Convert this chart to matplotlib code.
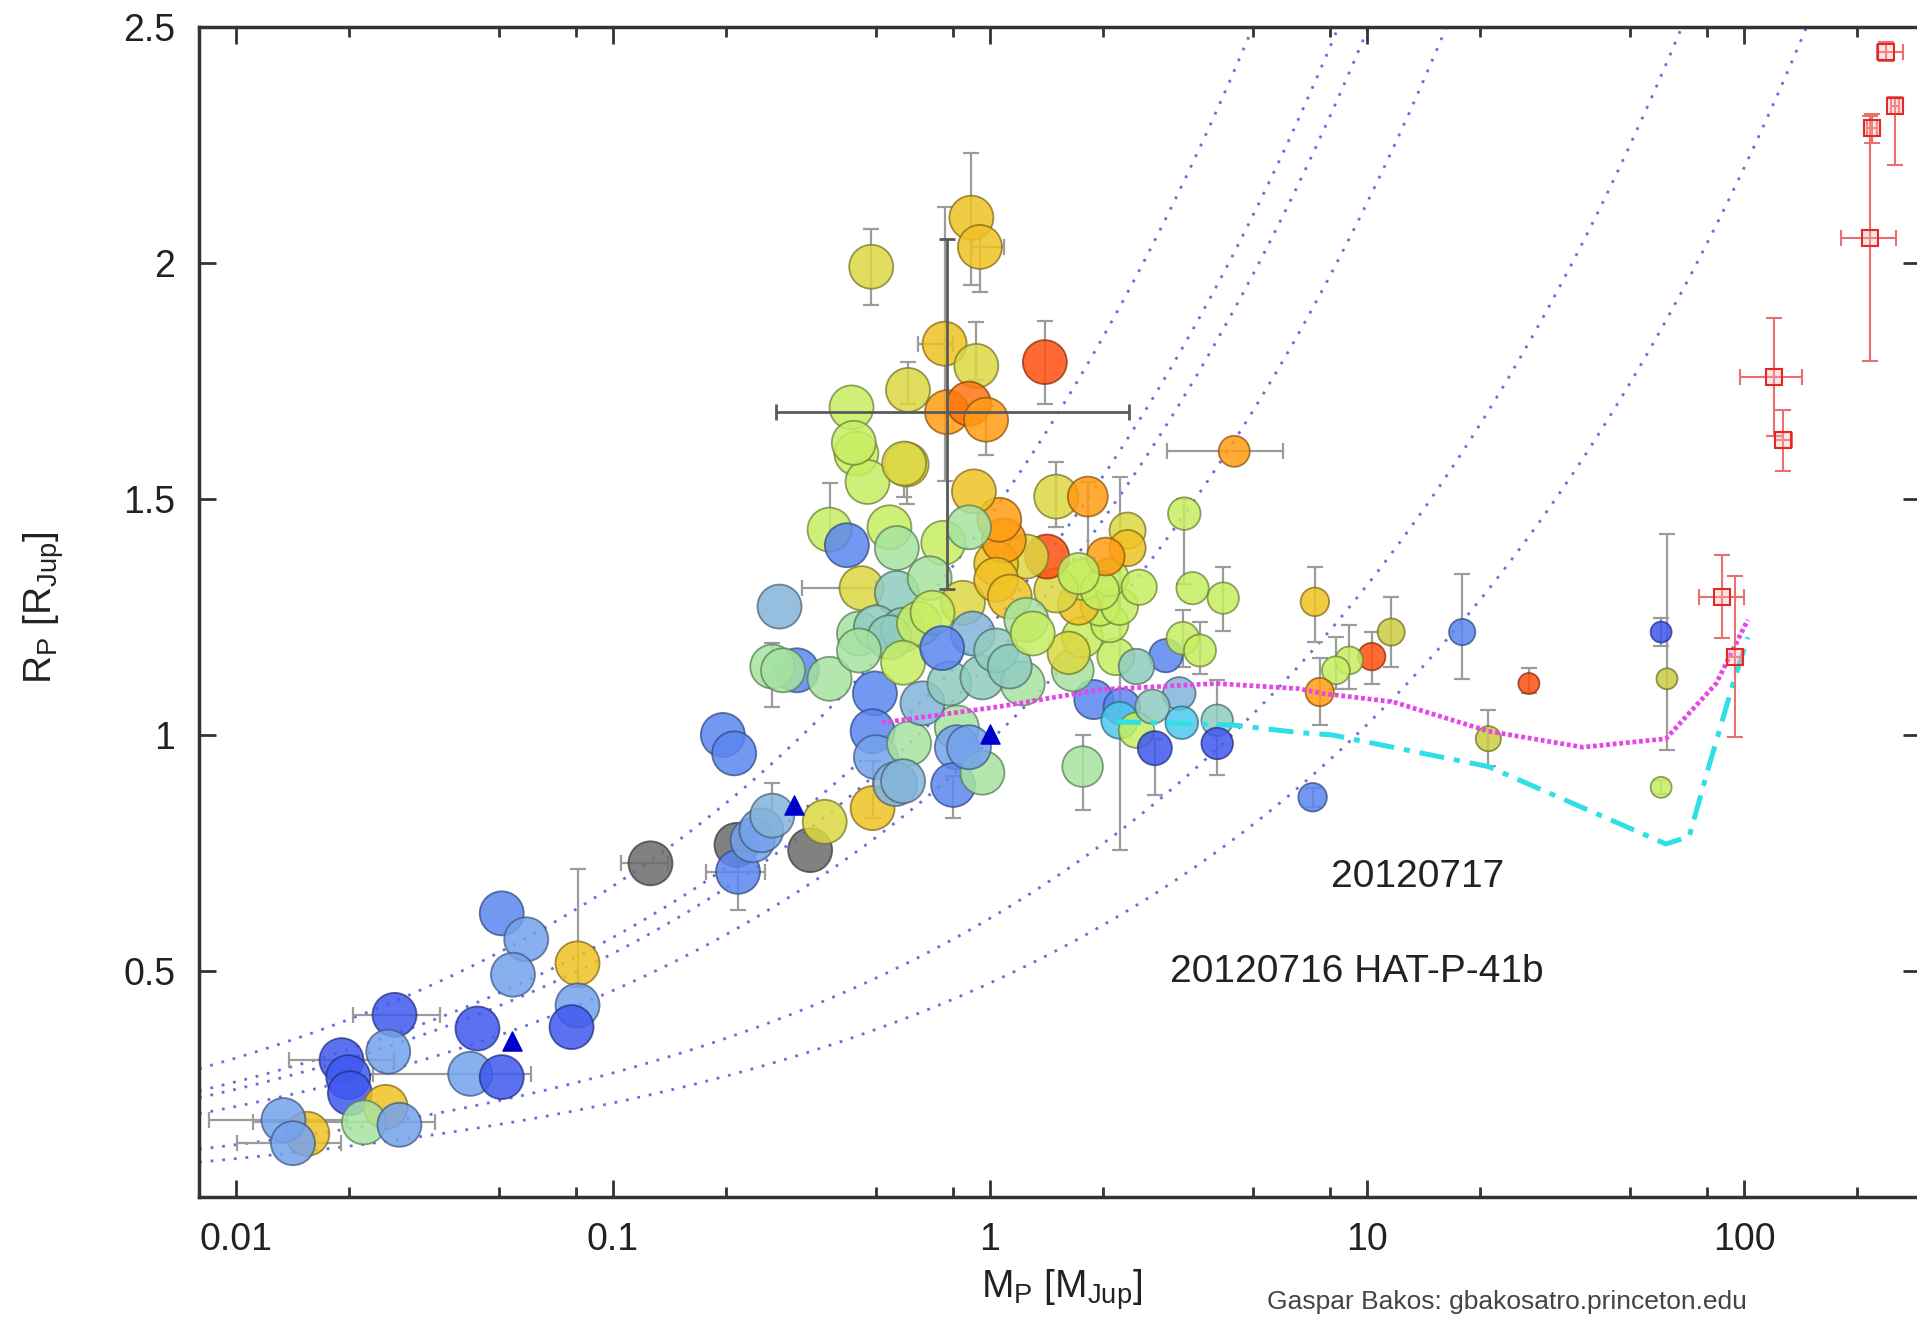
import numpy as np
import matplotlib
matplotlib.use('Agg')
import matplotlib.pyplot as plt
from matplotlib import font_manager
from matplotlib.ticker import FixedLocator, LogLocator, NullFormatter

plt.rcParams.update({
    'font.family': ['Liberation Sans', 'DejaVu Sans'],
    'mathtext.fontset': 'custom',
    'mathtext.rm': 'Liberation Sans',
    'mathtext.it': 'Liberation Sans:italic',
    'mathtext.sf': 'Liberation Sans',
})

# ── Transiting planets: mass [M_Jup], radius [R_Jup], colour class ──────────
mass = [
    0.0155, 0.0134, 0.0142, 0.0191, 0.0199, 0.0201, 0.0250, 0.0219, 0.0272,
    0.0264, 0.0254, 0.0438, 0.0419, 0.0508, 0.0508, 0.0590, 0.0544, 0.0807,
    0.0807, 0.0778,
    0.126, 0.196, 0.210, 0.213, 0.215, 0.235, 0.248, 0.265, 0.334, 0.365,
    0.489, 0.308, 0.265, 0.283, 0.376, 0.496, 0.489, 0.499, 0.562, 0.611,
    0.589, 0.818, 0.818, 0.800, 0.956, 0.881, 0.663, 0.782, 0.956, 1.223,
    1.763, 1.888, 2.24, 2.21, 2.45, 3.18, 2.70, 3.23, 4.01, 2.74, 4.01,
    2.93, 3.25, 3.61, 3.28, 3.45, 4.16, 4.45, 2.16, 2.45, 1.66, 1.76, 1.62,
    2.08, 1.96, 2.21, 1.72, 1.76, 2.08, 1.96, 1.50, 2.49, 2.32, 2.32, 2.03,
    1.42, 1.50, 1.82, 1.72, 1.25, 1.04, 1.09, 1.06, 0.908, 0.753, 0.881,
    0.542, 0.567, 0.376, 0.418, 0.443, 0.602, 0.474, 0.457, 0.567, 0.693,
    0.849, 1.04, 1.13, 0.277, 0.450, 0.499, 0.589, 0.542, 0.649, 0.450,
    0.589, 0.705, 0.901, 0.748, 1.04, 1.13, 1.25, 1.30,
    0.894, 0.942, 0.485, 0.759, 0.921, 1.40, 0.607, 0.430, 0.770, 0.881,
    0.978, 0.436, 0.593,
    7.28, 11.6, 10.3, 8.98, 8.28, 7.50, 17.9, 7.18, 21.0, 26.9, 60.3, 62.5,
    60.3,
]
radius = [
    0.155, 0.184, 0.135, 0.311, 0.275, 0.241, 0.212, 0.179, 0.174,
    0.407, 0.329, 0.378, 0.282, 0.275, 0.622, 0.567, 0.492, 0.516,
    0.427, 0.381,
    0.728, 1.000, 0.961, 0.767, 0.710, 0.777, 0.798, 0.829, 0.756, 0.816,
    0.845, 1.137, 1.145, 1.137, 1.119, 1.088, 1.008, 0.953, 0.896, 0.982,
    0.902, 1.016, 0.974, 0.894, 0.920, 0.974, 1.067, 1.109, 1.122, 1.109,
    0.933, 1.075, 1.060, 1.031, 1.010, 1.088, 1.060, 1.026, 1.031, 0.972, 0.982,
    1.168, 1.205, 1.179, 1.469, 1.311, 1.290, 1.601, 1.166, 1.145, 1.137, 1.207, 1.174,
    1.236, 1.272, 1.272, 1.277, 1.329, 1.334, 1.306, 1.306, 1.313, 1.433, 1.396, 1.378,
    1.378, 1.505, 1.505, 1.342, 1.378, 1.363, 1.412, 1.456, 1.516, 1.407, 1.440,
    1.440, 1.396, 1.435, 1.402, 1.596, 1.573, 1.536, 1.311, 1.301, 1.332,
    1.280, 1.329, 1.293, 1.272, 1.215, 1.228, 1.223, 1.207, 1.236, 1.179,
    1.153, 1.259, 1.215, 1.184, 1.179, 1.145, 1.244, 1.215,
    2.096, 2.034, 1.992, 1.829, 1.782, 1.790, 1.731, 1.694, 1.684, 1.702,
    1.668, 1.619, 1.575,
    1.282, 1.218, 1.166, 1.158, 1.137, 1.091, 1.218, 0.868, 0.992, 1.109, 1.218, 1.119,
    0.889,
]
colour = [
    'a', 'lb', 'lb', 'db', 'db', 'db', 'a', 'g', 'lb',
    'db', 'lb', 'db', 'lb', 'db', 'b', 'lb', 'lb', 'a',
    'lb', 'db',
    'k', 'b', 'b', 'k', 'b', 'lb', 'lb', 'sb', 'k', 'y',
    'a', 'b', 'g', 'g', 'g', 'b', 'b', 'lb', 'sb', 'g',
    'sb', 'g', 'lb', 'b', 'g', 'lb', 'sb', 't', 't', 'g',
    'g', 'b', 'b', 'c', 'yg', 'sb', 't', 'c', 't', 'db', 'db',
    'b', 'yg', 'yg', 'yg', 'yg', 'yg', 'o', 'yg', 't', 'g', 'yg', 'y',
    'yg', 'yg', 'yg', 'a', 'yg', 'yg', 'yg', 'y', 'yg', 'y', 'a', 'o',
    'r', 'y', 'o', 'yg', 'y', 'a', 'o', 'o', 'a', 'yg', 'g',
    'yg', 'g', 'yg', 'b', 'yg', 'y', 'yg', 'y', 't', 'g',
    'y', 'a', 'a', 'sb', 'g', 't', 't', 't', 'yg', 'g',
    'yg', 'yg', 'sb', 'b', 't', 't', 'g', 'yg',
    'a', 'a', 'y', 'a', 'y', 'r', 'y', 'yg', 'o', 'ro',
    'o', 'yg', 'y',
    'a', 'ol', 'r', 'yg', 'yg', 'o', 'b', 'b', 'ol', 'r', 'db', 'ol',
    'yg',
]

# vertical error bars: mass, radius, lower, upper
yerr_m = [0.0807, 0.265, 0.215, 0.265, 1.763, 2.21, 4.01, 2.74, 4.01, 3.28,
          4.16, 0.800, 0.376, 0.602, 1.50, 0.894, 0.942, 0.485, 0.759, 0.921,
          1.40, 0.607, 0.978, 0.593, 0.489, 3.25, 3.61, 1.82,
          7.28, 11.6, 10.3, 8.98, 8.28, 7.50, 17.9, 7.18, 21.0, 26.9, 60.3,
          62.5, 60.3]
yerr_r = [0.516, 0.829, 0.710, 1.145, 0.933, 1.031, 1.031, 0.972, 0.982, 1.469,
          1.290, 0.894, 1.435, 1.573, 1.505, 2.096, 2.034, 1.992, 1.829, 1.782,
          1.790, 1.731, 1.668, 1.575, 0.845, 1.205, 1.179, 1.505,
          1.282, 1.218, 1.166, 1.158, 1.137, 1.091, 1.218, 0.868, 0.992, 1.109,
          1.218, 1.119, 0.889]
yerr_lo = [0.05, 0.02, 0.08, 0.085, 0.093, 0.275, 0.02, 0.10, 0.067, 0.15,
           0.07, 0.07, 0.03, 0.083, 0.065, 0.142, 0.096, 0.08, 0.29, 0.03,
           0.088, 0.03, 0.075, 0.07, 0.02, 0.06, 0.05, 0.13,
           0.085, 0.073, 0.057, 0.06, 0.04, 0.07, 0.099, 0.02, 0.057, 0.02,
           0.03, 0.15, 0.015]
yerr_hi = [0.20, 0.07, 0.02, 0.05, 0.067, 0.516, 0.085, 0.02, 0.02, 0.03,
           0.065, 0.02, 0.098, 0.03, 0.073, 0.137, 0.03, 0.08, 0.29, 0.093,
           0.088, 0.06, 0.03, 0.03, 0.10, 0.06, 0.06, 0.03,
           0.073, 0.075, 0.052, 0.075, 0.07, 0.072, 0.124, 0.02, 0.06, 0.033,
           0.03, 0.306, 0.015]

# horizontal error bars: mass, radius, mass range
xerr_m = [4.45, 0.759, 0.942, 0.457, 0.215, 0.126, 0.0134, 0.0219, 0.0264,
          0.0419, 0.0191, 0.0142]
xerr_r = [1.601, 1.829, 2.034, 1.311, 0.710, 0.728, 0.184, 0.179, 0.407,
          0.282, 0.311, 0.135]
xerr_min = [2.95, 0.644, 0.90, 0.317, 0.177, 0.105, 0.0085, 0.0111, 0.0205,
            0.0231, 0.0139, 0.0101]
xerr_max = [6.0, 0.80, 1.09, 0.50, 0.253, 0.14, 0.0198, 0.0337, 0.0349,
            0.0608, 0.0263, 0.0190]

# planet with large errors in both axes
cross_m, cross_r = 0.770, 1.684
cross_m_range = (0.271, 2.34)
cross_r_range = (1.31, 2.05)

# triangles
tri_m = [0.054, 0.303, 1.0]
tri_r = [0.352, 0.852, 1.003]

# low-mass stars / brown dwarfs
star_m = [238, 251, 219, 216, 120, 127, 87.5, 94.4]
star_r = [2.448, 2.332, 2.285, 2.052, 1.759, 1.624, 1.293, 1.166]
star_r_lo = [0.02, 0.125, 0.03, 0.26, 0.125, 0.065, 0.088, 0.17]
star_r_hi = [0.02, 0.02, 0.03, 0.26, 0.125, 0.065, 0.088, 0.17]
star_m_min = [225, 245, 212, 181, 97.6, 121, 76, 90]
star_m_max = [264, 258, 226, 253, 142.6, 134, 100, 99]

# model tracks
magenta_m = [0.518, 0.575, 1.06, 1.44, 1.96, 3.98, 6.61, 7.62, 11.75, 21.0,
             37.4, 62.1, 84.4, 102.4]
magenta_r = [1.026, 1.031, 1.060, 1.078, 1.096, 1.109, 1.098, 1.088, 1.070,
             1.008, 0.974, 0.992, 1.109, 1.244]
cyan_m = [2.16, 4.42, 6.61, 8.09, 13.5, 21.0, 62.1, 71.6, 80.7, 93.6, 102.4]
cyan_r = [1.028, 1.021, 1.005, 1.000, 0.964, 0.933, 0.769, 0.785, 0.933,
          1.109, 1.207]

# iso-density curves: mass [M_Jup] at which R = 1 R_Jup
iso_m1 = [0.319, 0.538, 0.647, 1.04, 4.38, 9.38]

COLOURS = {
    'db': '#3f58ee', 'b': '#5b86f0', 'lb': '#74a2ec', 'sb': '#84b4da',
    't': '#8fccbf', 'g': '#a6e3a0', 'yg': '#c6ee62', 'y': '#dcd843',
    'ol': '#cccc44', 'a': '#f0c224', 'o': '#ff9c12', 'ro': '#ff7410',
    'r': '#ff5010', 'c': '#4cc8ec', 'k': '#6b6b6b',
}

fig = plt.figure(figsize=(19.17, 13.19), dpi=100)
ax = fig.add_axes([199 / 1917, 1 - 1197 / 1319, 1721 / 1917, 1170 / 1319])
ax.set_xscale('log')
ax.set_xlim(0.008, 293)
ax.set_ylim(0.021, 2.5)

# ── iso-density curves ──────────────────────────────────────────────────────
for m1 in iso_m1:
    mm = np.logspace(np.log10(0.008), np.log10(m1 * 2.6 ** 3), 500)
    ax.plot(mm, (mm / m1) ** (1 / 3), ls=(0, (1, 3.2)), color='#5252d4',
            lw=2.0, alpha=0.85, zorder=1)

# ── error bars ──────────────────────────────────────────────────────────────
ax.errorbar(yerr_m, yerr_r, yerr=[yerr_lo, yerr_hi], fmt='none',
            ecolor='#9c9c9c', elinewidth=1.6, capsize=6, capthick=1.6, zorder=2)
xm = np.array(xerr_m)
ax.errorbar(xerr_m, xerr_r, xerr=[xm - np.array(xerr_min), np.array(xerr_max) - xm],
            fmt='none', ecolor='#9c9c9c', elinewidth=1.6, capsize=6,
            capthick=1.6, zorder=2)

# ── planets ─────────────────────────────────────────────────────────────────
m_arr = np.array(mass)
lm = np.log10(m_arr)
diam_px = np.interp(lm, np.log10([1.5, 2, 3, 4.5, 8, 20, 27]),
                    [44, 38, 33, 31, 28, 26, 21])
sizes = (diam_px * 0.72) ** 2
face = [matplotlib.colors.to_rgba(COLOURS[c], 0.85) for c in colour]
edge = [tuple(np.array(matplotlib.colors.to_rgb(COLOURS[c])) * 0.55) + (0.75,)
        for c in colour]
ax.scatter(mass, radius, s=sizes, facecolors=face, edgecolors=edge,
           linewidths=1.3, zorder=3)

ax.errorbar([cross_m], [cross_r],
            xerr=[[cross_m - cross_m_range[0]], [cross_m_range[1] - cross_m]],
            yerr=[[cross_r - cross_r_range[0]], [cross_r_range[1] - cross_r]],
            fmt='none', ecolor='#5a5a5a', elinewidth=2, capsize=6, capthick=2,
            zorder=5)

ax.scatter(tri_m, tri_r, marker='^', s=190, color='#0000cc', zorder=4)

# ── model tracks ────────────────────────────────────────────────────────────
ax.plot(magenta_m, magenta_r, color='#e845e8', lw=3.4, ls=(0, (0.8, 0.6)),
        zorder=6)
ax.plot(cyan_m, cyan_r, color='#2ee0e6', lw=3.6, ls=(0, (5, 2, 1.2, 2)),
        zorder=6)

# ── stars ───────────────────────────────────────────────────────────────────
sm = np.array(star_m)
ax.errorbar(star_m, star_r, yerr=[star_r_lo, star_r_hi],
            xerr=[sm - np.array(star_m_min), np.array(star_m_max) - sm],
            fmt='s', ms=11, mfc=(1, 0.7, 0.7, 0.35), mec='#e02a2a', mew=1.5,
            ecolor='#e87070', elinewidth=1.5, capsize=6, capthick=1.5, zorder=7)

# ── labels ──────────────────────────────────────────────────────────────────
ax.text(13.6, 0.699, '20120717', ha='center', va='center', fontsize=28,
        color='#222222')
ax.text(9.4, 0.498, '20120716 HAT-P-41b', ha='center', va='center',
        fontsize=28, color='#222222')

ax.xaxis.set_major_locator(FixedLocator([0.01, 0.1, 1, 10, 100]))
ax.set_xticklabels(['0.01', '0.1', '1', '10', '100'])
ax.xaxis.set_minor_locator(LogLocator(base=10, subs=(2, 5, 8), numticks=20))
ax.xaxis.set_minor_formatter(NullFormatter())
ax.set_yticks([0.5, 1, 1.5, 2, 2.5])
ax.set_yticklabels(['0.5', '1', '1.5', '2', '2.5'])
ax.tick_params(which='both', direction='in', top=True, right=True, width=2,
               color='#333333', labelcolor='#222222', labelsize=27)
ax.tick_params(which='major', length=12)
ax.tick_params(which='minor', length=7)
ax.tick_params(axis='x', pad=18)
ax.tick_params(axis='y', pad=17)
for sp in ax.spines.values():
    sp.set_linewidth(2.5)
    sp.set_color('#333333')

fig.text(1062 / 1917, 1 - 1290 / 1319, r'M$_\mathrm{P}$ [M$_\mathrm{Jup}$]',
         ha='center', va='center', fontsize=28, color='#222222')
fig.text(44 / 1917, 1 - 608 / 1319, r'R$_\mathrm{P}$ [R$_\mathrm{Jup}$]',
         ha='center', va='center', rotation=90, fontsize=28, color='#222222')

try:
    font_manager.findfont('Liberation Sans Narrow', fallback_to_default=False)
    credit_font, credit_size = 'Liberation Sans Narrow', 23
except Exception:
    credit_font, credit_size = 'Liberation Sans', 19
fig.text(1507 / 1917, 1 - 1302 / 1319, 'Gaspar Bakos: gbakosatro.princeton.edu',
         ha='center', va='center', fontsize=credit_size, family=credit_font,
         color='#444444')

fig.savefig('out.png', dpi=100, facecolor='white')
